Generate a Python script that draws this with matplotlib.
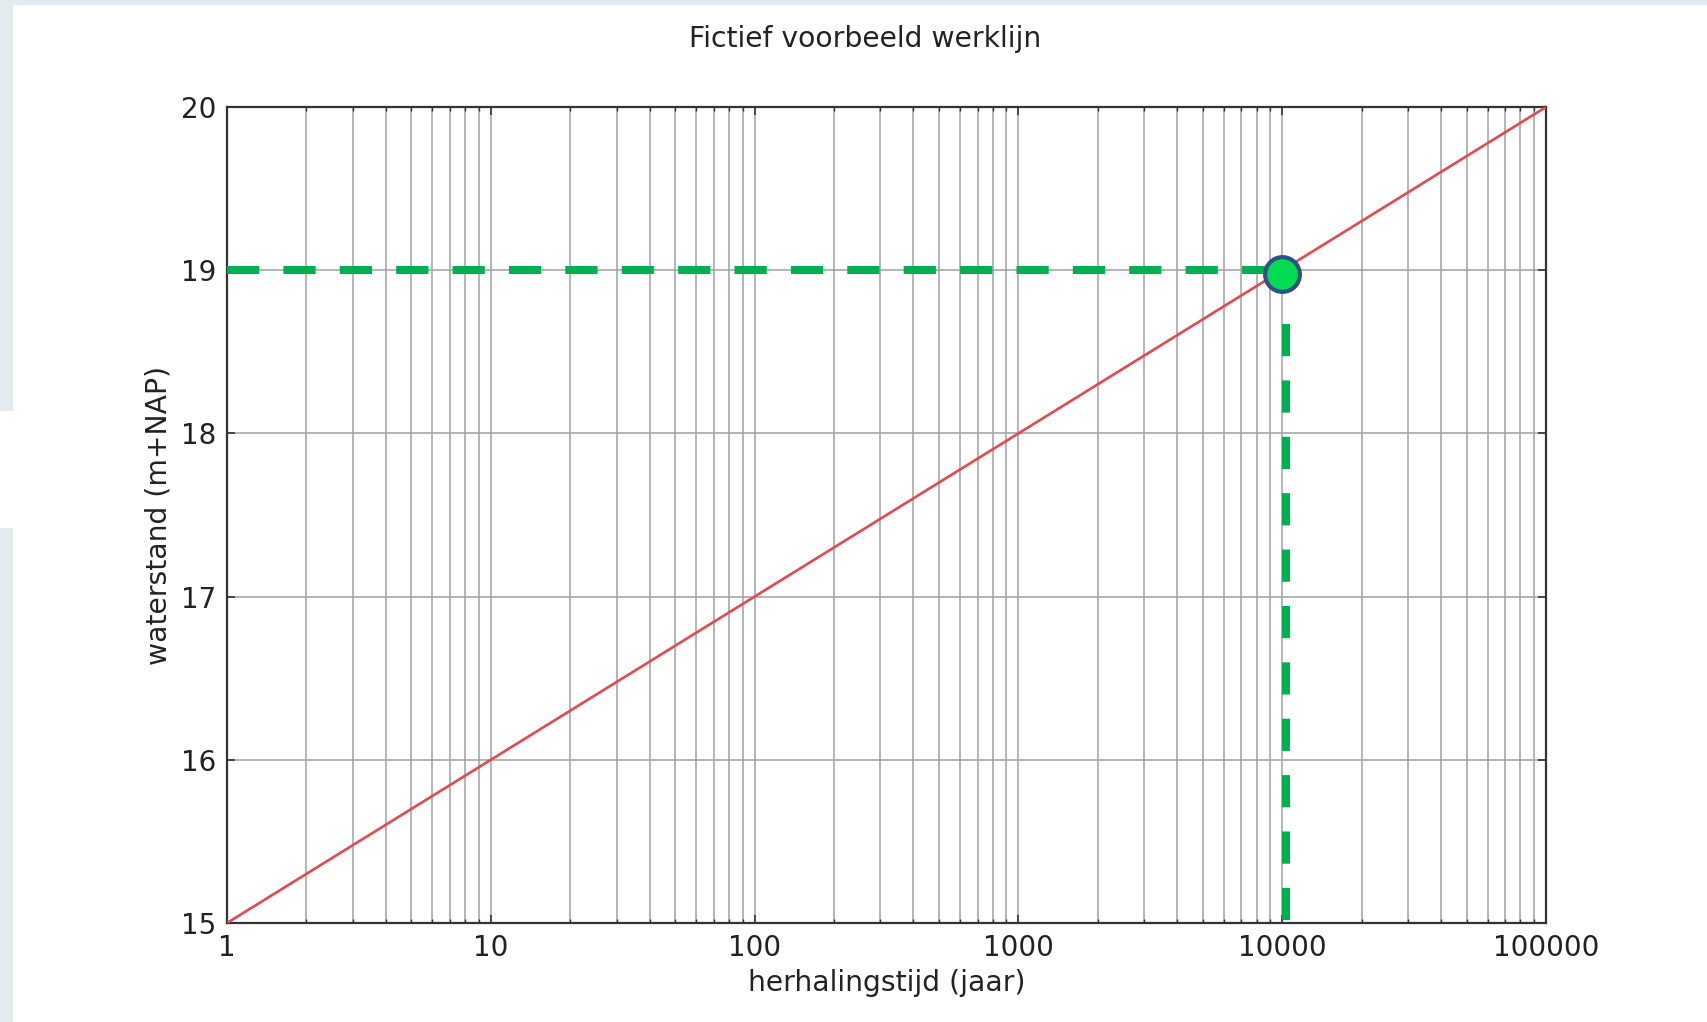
import matplotlib.pyplot as plt
from matplotlib.patches import Rectangle
from matplotlib.ticker import LogLocator, NullFormatter

# werklijn: waterstand tegen herhalingstijd
herhalingstijd = [1, 100000]
waterstand = [15, 20]

punt_T = 10000
punt_h = 18.975
verticaal_T = 10300
verticaal_h = [18.67, 15]

x_ticks = [1, 10, 100, 1000, 10000, 100000]
x_labels = ['1', '10', '100', '1000', '10000', '100000']
y_ticks = [15, 16, 17, 18, 19, 20]

fig = plt.figure(figsize=(17.07, 10.22), dpi=100, facecolor='#e3ebee')
# witte achtergrond met lichte rand links en boven
fig.patches.append(Rectangle((13 / 1707, 0), 1, 1 - 5 / 1022, transform=fig.transFigure,
                             facecolor='white', edgecolor='none', zorder=-10))
fig.patches.append(Rectangle((0, 1 - 528 / 1022), 13 / 1707, 117 / 1022, transform=fig.transFigure,
                             facecolor='white', edgecolor='none', zorder=-10))

ax = fig.add_axes([0.133, 0.0969, 0.9057 - 0.133, 0.8953 - 0.0969])
ax.set_xscale('log')

ax.plot(herhalingstijd, waterstand, color='#e24a4f', lw=1.9, zorder=3)
ax.plot([herhalingstijd[0], punt_T], [punt_h + 0.025, punt_h + 0.025], color='#00b050',
        lw=5.8, dashes=(4, 3), zorder=4)
ax.plot([verticaal_T, verticaal_T], verticaal_h, color='#00b050', lw=5.8, dashes=(4, 3), zorder=4)
ax.plot([punt_T], [punt_h], 'o', ms=25, mfc='#00dc52', mec='#2f5286', mew=3, zorder=5)

ax.set_xlim(1, 100000)
ax.set_ylim(15, 20)
ax.set_xticks(x_ticks)
ax.set_xticklabels(x_labels)
ax.xaxis.set_minor_locator(LogLocator(base=10, subs=range(2, 10)))
ax.xaxis.set_minor_formatter(NullFormatter())
ax.set_yticks(y_ticks)

ax.grid(True, which='major', color='#a0a0a0', lw=1.1)
ax.grid(True, which='minor', axis='x', color='#a0a0a0', lw=1.1)
ax.set_axisbelow(True)

for s in ax.spines.values():
    s.set_color('#333333')
    s.set_linewidth(1.6)

ax.tick_params(which='both', direction='in', top=True, right=True, colors='#333333',
               labelcolor='#222222', labelsize=20, pad=8)
ax.tick_params(which='major', length=6, width=1.2)
ax.tick_params(which='minor', length=3, width=1)

ax.set_xlabel('herhalingstijd (jaar)', fontsize=20.3, color='#222222', labelpad=5)
ax.set_ylabel('waterstand (m+NAP)', fontsize=20.3, color='#222222', labelpad=6)
ax.set_title('Fictief voorbeeld werklijn', fontsize=20.3, color='#222222', pad=43, x=0.484)

fig.savefig('out.png', dpi=100, facecolor=fig.get_facecolor())
